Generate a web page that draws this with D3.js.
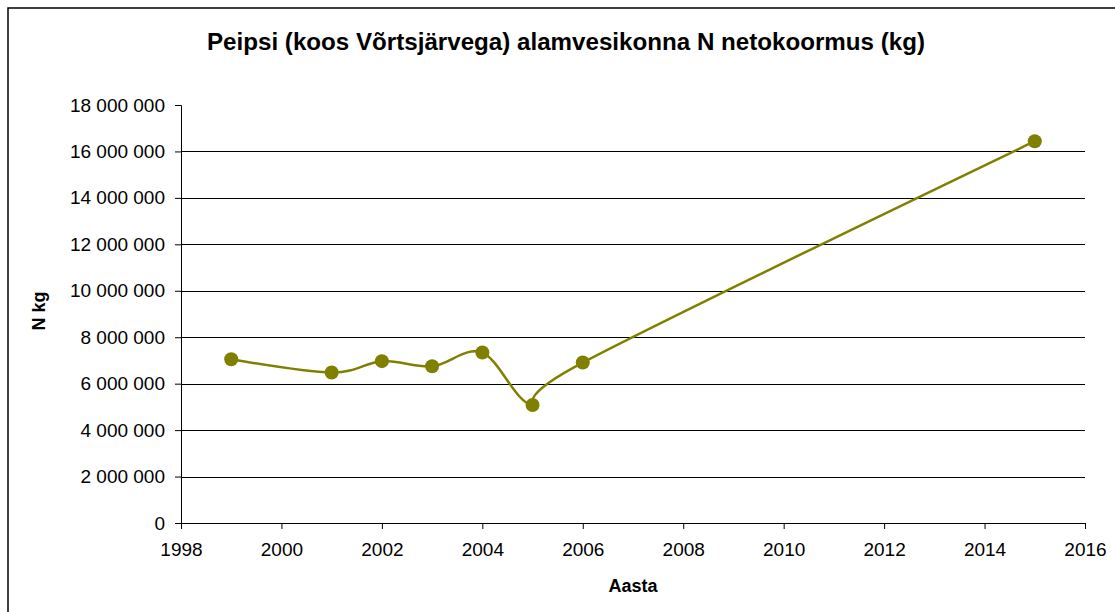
<!DOCTYPE html>
<html>
<head>
<meta charset="utf-8">
<script src="https://cdn.jsdelivr.net/npm/d3@7"></script>
<style>
  body { margin: 0; background: #fff; }
  text { font-family: "Liberation Sans", Arial, sans-serif; }
</style>
</head>
<body>
<div id="chart"></div>
<script>
const years = [1999, 2001, 2002, 2003, 2004, 2005, 2006, 2015];
const nLoad = [7050000, 6480000, 6970000, 6750000, 7340000, 5080000, 6910000, 16440000];
const xTicks = [1998, 2000, 2002, 2004, 2006, 2008, 2010, 2012, 2014, 2016];
const yTicks = [0, 2000000, 4000000, 6000000, 8000000, 10000000, 12000000, 14000000, 16000000, 18000000];

const title = 'Peipsi (koos Võrtsjärvega) alamvesikonna N netokoormus (kg)';
const xTitle = 'Aasta';
const yTitle = 'N kg';

const totalWidth = 1115;
const totalHeight = 612;
const margin = { top: 105, right: 30, bottom: 89, left: 181 };
const width = totalWidth - margin.left - margin.right;
const height = totalHeight - margin.top - margin.bottom;
const color = '#808000';

const svg = d3.select('#chart').append('svg')
  .attr('width', totalWidth)
  .attr('height', totalHeight);

// outer frame of the chart
svg.append('rect')
  .attr('x', 8).attr('y', 8)
  .attr('width', totalWidth + 20).attr('height', totalHeight + 20)
  .attr('fill', 'none')
  .attr('stroke', '#000')
  .attr('stroke-width', 1.5);

svg.append('text')
  .attr('x', 566).attr('y', 50)
  .attr('text-anchor', 'middle')
  .attr('font-size', 23)
  .attr('font-weight', 'bold')
  .attr('textLength', 718)
  .attr('lengthAdjust', 'spacingAndGlyphs')
  .text(title);

const g = svg.append('g')
  .attr('transform', `translate(${margin.left}, ${margin.top})`);

const x = d3.scaleLinear().domain([1998, 2016]).range([0, width]);
const y = d3.scaleLinear().domain([0, 18000000]).range([height, 0]);

const fmt = v => d3.format(',')(v).replace(/,/g, '\u00a0');

// gridlines
g.append('g')
  .selectAll('line')
  .data(yTicks.filter(v => v > 0 && v < 18000000))
  .join('line')
  .attr('x1', 0).attr('x2', width)
  .attr('y1', d => Math.round(y(d)) + 0.5)
  .attr('y2', d => Math.round(y(d)) + 0.5)
  .attr('stroke', '#000')
  .attr('stroke-width', 1);

const xAxis = g.append('g')
  .attr('transform', `translate(0, ${height})`)
  .call(d3.axisBottom(x).tickValues(xTicks).tickFormat(d3.format('d')).tickSize(6).tickPadding(14));

const yAxis = g.append('g')
  .call(d3.axisLeft(y).tickValues(yTicks).tickFormat(fmt).tickSize(6).tickPadding(10));

[xAxis, yAxis].forEach(a => {
  a.select('.domain').attr('stroke', '#000').attr('stroke-width', 1);
  a.selectAll('.tick line').attr('stroke', '#000');
  a.selectAll('.tick text')
    .attr('font-family', '"Liberation Sans", Arial, sans-serif')
    .attr('font-size', 19)
    .attr('fill', '#000');
});

// excel-style smoothed line
const line = d3.line()
  .x((d, i) => x(years[i]))
  .y(d => y(d))
  .curve(d3.curveCatmullRom.alpha(0));

g.append('path')
  .datum(nLoad)
  .attr('fill', 'none')
  .attr('stroke', color)
  .attr('stroke-width', 2.5)
  .attr('d', line);

g.selectAll('circle')
  .data(nLoad)
  .join('circle')
  .attr('cx', (d, i) => x(years[i]))
  .attr('cy', d => y(d))
  .attr('r', 7)
  .attr('fill', color);

svg.append('text')
  .attr('x', margin.left + width / 2).attr('y', 592)
  .attr('text-anchor', 'middle')
  .attr('font-size', 18)
  .attr('font-weight', 'bold')
  .text(xTitle);

svg.append('text')
  .attr('transform', 'translate(45, 311) rotate(-90)')
  .attr('text-anchor', 'middle')
  .attr('font-size', 18)
  .attr('font-weight', 'bold')
  .text(yTitle);
</script>
</body>
</html>
